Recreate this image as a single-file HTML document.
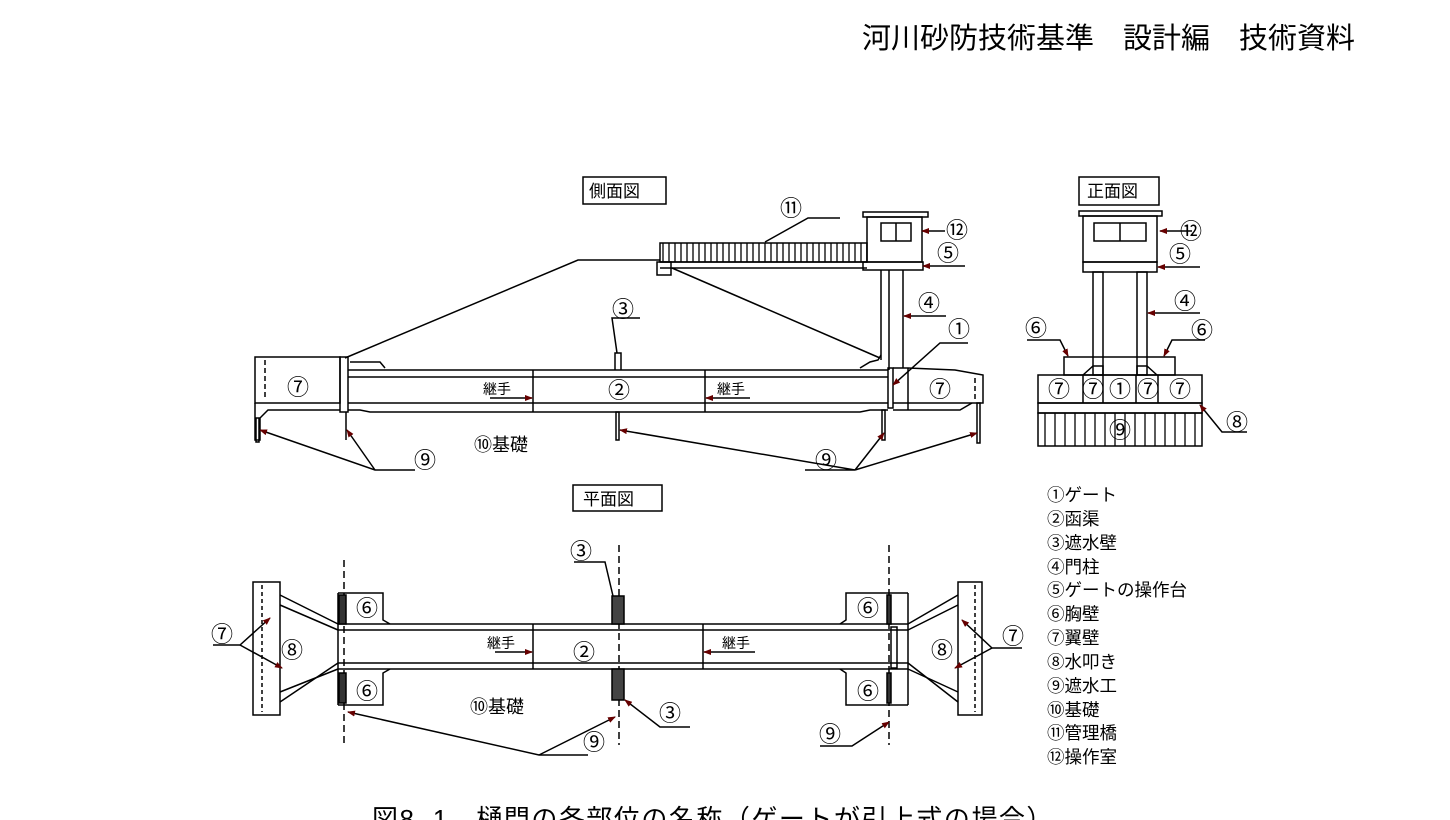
<!DOCTYPE html>
<html><head><meta charset="utf-8"><style>
html,body{margin:0;padding:0;background:#fff;}
svg{display:block}
text{font-family:"Liberation Sans","Noto Sans CJK JP",sans-serif;fill:#000}
</style></head><body>
<svg width="1450" height="820" viewBox="0 0 1450 820" xmlns="http://www.w3.org/2000/svg">
<defs>
<marker id="a" markerWidth="8" markerHeight="6" refX="7" refY="3" orient="auto" markerUnits="userSpaceOnUse"><path d="M0,0 L8,3 L0,6z" fill="#600"/></marker>
<pattern id="hb" width="6" height="20" patternUnits="userSpaceOnUse"><line x1="3" y1="0" x2="3" y2="20" stroke="#000" stroke-width="1.3"/></pattern>
<pattern id="hf" width="10" height="40" patternUnits="userSpaceOnUse"><line x1="5" y1="0" x2="5" y2="40" stroke="#000" stroke-width="1.3"/></pattern>
</defs>
<text x="862" y="48" font-size="29">河川砂防技術基準　設計編　技術資料</text>

<g fill="none" stroke="#000" stroke-width="1.5">
<rect x="583" y="177" width="83" height="27"/>
<polyline points="345,358 578,260 660,260"/>
<line x1="672" y1="268" x2="880" y2="358"/>
<rect x="660" y="243" width="207" height="19" fill="url(#hb)"/>
<line x1="660" y1="262" x2="867" y2="262"/><line x1="660" y1="268" x2="867" y2="268"/>
<rect x="657" y="262" width="14" height="13"/>
<rect x="863" y="212" width="65" height="5"/>
<rect x="867" y="217" width="55" height="45"/>
<rect x="881" y="223" width="30" height="18"/><line x1="896" y1="223" x2="896" y2="241"/>
<rect x="863" y="262" width="60" height="8"/>
<line x1="881" y1="270" x2="881" y2="360"/><line x1="889" y1="270" x2="889" y2="370"/>
<line x1="903" y1="270" x2="903" y2="368"/>
<rect x="255" y="357" width="85" height="46"/>
<line x1="265" y1="360" x2="265" y2="400" stroke-dasharray="5,3"/>
<polyline points="255,403 255,440 260,440 260,418 268,410 340,410"/>
<rect x="340" y="357" width="8" height="55"/>
<line x1="348" y1="370" x2="888" y2="370"/><line x1="348" y1="377" x2="888" y2="377"/>
<line x1="348" y1="403" x2="888" y2="403"/><polyline points="348,410 360,410 370,412 500,412"/>
<line x1="500" y1="412" x2="735" y2="412"/><polyline points="735,412 860,412 870,410 888,410"/>
<line x1="533" y1="370" x2="533" y2="412"/><line x1="705" y1="370" x2="705" y2="412"/>
<polyline points="615,370 615,353 621,353 621,370"/>
<polyline points="350,362 380,362 385,368"/><polyline points="860,368 870,362 878,360 881,355"/>
<rect x="888" y="368" width="5" height="40"/>
<polyline points="893,368 908,368 955,370 983,375 983,403 893,403"/>
<line x1="908" y1="368" x2="908" y2="410"/>
<line x1="975" y1="378" x2="975" y2="402" stroke-dasharray="5,3"/>
<polyline points="893,410 960,410 972,403"/>
<line x1="346" y1="412" x2="346" y2="440"/>
<rect x="616" y="412" width="3" height="28"/>
<rect x="882" y="410" width="3" height="30"/>
<rect x="977" y="403" width="3" height="40"/>
<rect x="256" y="418" width="3" height="24"/>
<polyline points="840,218 808,218 765,242"/>
<polyline points="640,318 612,318 617,353"/>
<line x1="945" y1="231" x2="922" y2="231" marker-end="url(#a)"/>
<line x1="965" y1="266" x2="923" y2="266" marker-end="url(#a)"/>
<line x1="946" y1="316" x2="904" y2="316" marker-end="url(#a)"/>
<polyline points="968,343 940,343 893,385" marker-end="url(#a)"/>
<line x1="490" y1="398" x2="532" y2="398" marker-end="url(#a)"/>
<line x1="750" y1="398" x2="706" y2="398" marker-end="url(#a)"/>
<polyline points="415,470 375,470 260,430" marker-end="url(#a)"/>
<line x1="375" y1="470" x2="347" y2="430" marker-end="url(#a)"/>
<polyline points="805,470 855,470 620,430" marker-end="url(#a)"/>
<line x1="855" y1="470" x2="884" y2="433" marker-end="url(#a)"/>
<line x1="855" y1="470" x2="977" y2="433" marker-end="url(#a)"/>

<rect x="1079" y="177" width="80" height="28"/>
<rect x="1079" y="211" width="83" height="5"/>
<rect x="1083" y="216" width="74" height="46"/>
<rect x="1094" y="223" width="52" height="18"/><line x1="1120" y1="223" x2="1120" y2="241"/>
<rect x="1083" y="262" width="74" height="10"/>
<rect x="1093" y="272" width="10" height="103"/>
<rect x="1137" y="272" width="10" height="103"/>
<rect x="1064" y="357" width="111" height="18"/>
<polyline points="1083,375 1093,366 1103,366 1103,375"/><polyline points="1157,375 1147,366 1137,366 1137,375"/>
<rect x="1038" y="375" width="164" height="28"/>
<line x1="1083" y1="375" x2="1083" y2="403"/><line x1="1103" y1="375" x2="1103" y2="403"/>
<line x1="1136" y1="375" x2="1136" y2="403"/><line x1="1158" y1="375" x2="1158" y2="403"/>
<rect x="1038" y="403" width="164" height="10"/>
<rect x="1038" y="413" width="164" height="33" fill="url(#hf)"/>
<line x1="1192" y1="231" x2="1160" y2="231" marker-end="url(#a)"/>
<line x1="1200" y1="267" x2="1158" y2="267" marker-end="url(#a)"/>
<line x1="1200" y1="313" x2="1148" y2="313" marker-end="url(#a)"/>
<polyline points="1027,340 1060,340 1068,356" marker-end="url(#a)"/>
<polyline points="1205,340 1172,340 1164,356" marker-end="url(#a)"/>
<polyline points="1247,432 1222,432 1200,405" marker-end="url(#a)"/>

<rect x="573" y="485" width="89" height="26"/>
<line x1="344" y1="560" x2="344" y2="745" stroke-dasharray="7,4"/>
<line x1="619" y1="545" x2="619" y2="745" stroke-dasharray="7,4"/>
<line x1="889" y1="545" x2="889" y2="745" stroke-dasharray="7,4"/>
<rect x="253" y="582" width="27" height="133"/>
<line x1="262" y1="585" x2="262" y2="712" stroke-dasharray="4,3"/>
<line x1="280" y1="595" x2="338" y2="624"/><line x1="280" y1="605" x2="338" y2="630"/>
<line x1="280" y1="692" x2="338" y2="669"/><line x1="280" y1="702" x2="338" y2="663"/>
<rect x="958" y="582" width="24" height="133"/>
<line x1="975" y1="585" x2="975" y2="712" stroke-dasharray="4,3"/>
<line x1="958" y1="595" x2="908" y2="624"/><line x1="958" y1="605" x2="908" y2="630"/>
<line x1="958" y1="692" x2="908" y2="669"/><line x1="958" y1="702" x2="908" y2="663"/>
<line x1="338" y1="624" x2="908" y2="624"/><line x1="338" y1="630" x2="908" y2="630"/>
<line x1="338" y1="663" x2="908" y2="663"/><line x1="338" y1="669" x2="908" y2="669"/>
<line x1="338" y1="593" x2="338" y2="705"/><line x1="908" y1="593" x2="908" y2="705"/>
<line x1="533" y1="624" x2="533" y2="669"/><line x1="703" y1="624" x2="703" y2="669"/>
<rect x="891" y="627" width="6" height="41"/>
<polyline points="338,593 383,593 383,620 390,624"/>
<polyline points="338,705 383,705 383,673 390,669"/>
<polyline points="908,593 846,593 846,620 840,624"/>
<polyline points="908,705 846,705 846,673 840,669"/>
<rect x="339" y="595" width="7" height="29" fill="#333"/>
<rect x="339" y="673" width="7" height="30" fill="#333"/>
<rect x="887" y="595" width="4" height="29" fill="#333"/>
<rect x="887" y="673" width="4" height="30" fill="#333"/>
<rect x="612" y="596" width="12" height="28" fill="#444"/>
<rect x="612" y="669" width="12" height="31" fill="#444"/>
<polyline points="213,645 240,645 270,618" marker-end="url(#a)"/>
<line x1="240" y1="645" x2="282" y2="668" marker-end="url(#a)"/>
<polyline points="1022,648 992,648 962,620" marker-end="url(#a)"/>
<line x1="992" y1="648" x2="955" y2="668" marker-end="url(#a)"/>
<line x1="495" y1="652" x2="532" y2="652" marker-end="url(#a)"/>
<line x1="755" y1="652" x2="704" y2="652" marker-end="url(#a)"/>
<polyline points="574,562 605,562 613,596"/>
<polyline points="690,727 660,727 625,700" marker-end="url(#a)"/>
<polyline points="588,755 539,755 348,712" marker-end="url(#a)"/>
<line x1="539" y1="755" x2="615" y2="717" marker-end="url(#a)"/>
<polyline points="820,746 852,746 889,722" marker-end="url(#a)"/>
</g>

<g font-size="17">
<text x="589" y="197">側面図</text>
<text x="1087" y="197">正面図</text>
<text x="583" y="505">平面図</text>
</g>
<g font-size="22">
<text x="780" y="216">⑪</text><text x="946" y="238">⑫</text><text x="937" y="261">⑤</text>
<text x="918" y="311">④</text><text x="948" y="337">①</text><text x="612" y="317">③</text>
<text x="287" y="395">⑦</text><text x="608" y="398">②</text><text x="929" y="397">⑦</text>
<text x="414" y="468">⑨</text><text x="815" y="468">⑨</text>
<text x="1180" y="239">⑫</text><text x="1169" y="262">⑤</text><text x="1174" y="309">④</text>
<text x="1025" y="336">⑥</text><text x="1191" y="338">⑥</text>
<text x="1048" y="397">⑦</text><text x="1082" y="397">⑦</text><text x="1109" y="397">①</text><text x="1137" y="397">⑦</text><text x="1169" y="397">⑦</text>
<text x="1109" y="438">⑨</text><text x="1226" y="430">⑧</text>
<text x="356" y="616">⑥</text><text x="356" y="699">⑥</text><text x="857" y="616">⑥</text><text x="857" y="699">⑥</text>
<text x="281" y="658">⑧</text><text x="931" y="658">⑧</text><text x="573" y="660">②</text>
<text x="211" y="642">⑦</text><text x="1002" y="644">⑦</text>
<text x="570" y="559">③</text><text x="659" y="721">③</text>
<text x="583" y="750">⑨</text><text x="819" y="742">⑨</text>
</g>
<g font-size="18">
<text x="474" y="451">⑩基礎</text>
<text x="470" y="713">⑩基礎</text>
</g>
<g font-size="14">
<text x="483" y="394">継手</text><text x="717" y="394">継手</text>
<text x="487" y="648">継手</text><text x="722" y="648">継手</text>
</g>
<g font-size="17.5">
<text x="1047" y="501">①ゲート</text><text x="1047" y="525">②函渠</text><text x="1047" y="549">③遮水壁</text>
<text x="1047" y="573">④門柱</text><text x="1047" y="596">⑤ゲートの操作台</text><text x="1047" y="620">⑥胸壁</text>
<text x="1047" y="644">⑦翼壁</text><text x="1047" y="668">⑧水叩き</text><text x="1047" y="692">⑨遮水工</text>
<text x="1047" y="716">⑩基礎</text><text x="1047" y="739">⑪管理橋</text><text x="1047" y="763">⑫操作室</text>
</g>
<text x="372" y="828" font-size="26" letter-spacing="1.5">図8. 1　樋門の各部位の名称（ゲートが引上式の場合）</text>
</svg>
</body></html>
